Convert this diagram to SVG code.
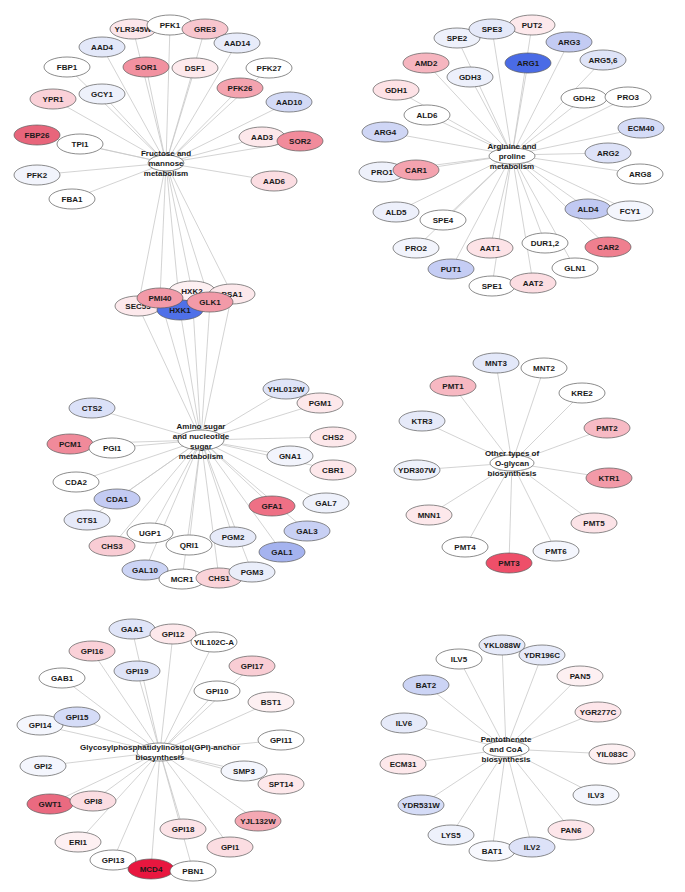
<svg xmlns="http://www.w3.org/2000/svg" width="685" height="892" viewBox="0 0 685 892">
<style>
.e{stroke:#c8c8c8;stroke-width:0.8;fill:none}
.n ellipse{stroke:#5a5a5a;stroke-width:0.7}
.n text,.h text{font-family:"Liberation Sans",Arial,sans-serif;font-weight:bold;font-size:8px;fill:#1a1a1a;text-anchor:middle}
.h ellipse{fill:#ffffff;stroke:#5a5a5a;stroke-width:0.7}
</style>
<rect width="685" height="892" fill="#ffffff"/>
<g id="connectors">
<!-- Fructose hub (166,163) -->
<line class="e" x1="133" y1="29" x2="166" y2="163"/>
<line class="e" x1="170" y1="25" x2="166" y2="163"/>
<line class="e" x1="205" y1="29" x2="166" y2="163"/>
<line class="e" x1="102" y1="47" x2="166" y2="163"/>
<line class="e" x1="237" y1="43" x2="166" y2="163"/>
<line class="e" x1="67" y1="67" x2="166" y2="163"/>
<line class="e" x1="146" y1="67" x2="166" y2="163"/>
<line class="e" x1="195" y1="68" x2="166" y2="163"/>
<line class="e" x1="269" y1="68" x2="166" y2="163"/>
<line class="e" x1="102" y1="94" x2="166" y2="163"/>
<line class="e" x1="240" y1="88" x2="166" y2="163"/>
<line class="e" x1="53" y1="99" x2="166" y2="163"/>
<line class="e" x1="289" y1="102" x2="166" y2="163"/>
<line class="e" x1="37" y1="135" x2="166" y2="163"/>
<line class="e" x1="80" y1="144" x2="166" y2="163"/>
<line class="e" x1="262" y1="137" x2="166" y2="163"/>
<line class="e" x1="300" y1="141" x2="166" y2="163"/>
<line class="e" x1="37" y1="175" x2="166" y2="163"/>
<line class="e" x1="274" y1="181" x2="166" y2="163"/>
<line class="e" x1="72" y1="199" x2="166" y2="163"/>
<!-- shared nodes to fructose hub -->
<line class="e" x1="138" y1="306" x2="166" y2="163"/>
<line class="e" x1="192" y1="291" x2="166" y2="163"/>
<line class="e" x1="232" y1="294" x2="166" y2="163"/>
<line class="e" x1="160" y1="298" x2="166" y2="163"/>
<line class="e" x1="210" y1="302" x2="166" y2="163"/>
<line class="e" x1="180" y1="310" x2="166" y2="163"/>
<!-- shared nodes to amino hub -->
<line class="e" x1="138" y1="306" x2="201" y2="440"/>
<line class="e" x1="192" y1="291" x2="201" y2="440"/>
<line class="e" x1="232" y1="294" x2="201" y2="440"/>
<line class="e" x1="160" y1="298" x2="201" y2="440"/>
<line class="e" x1="210" y1="302" x2="201" y2="440"/>
<line class="e" x1="180" y1="310" x2="201" y2="440"/>
<!-- Arginine hub (512,155) -->
<line class="e" x1="457" y1="38" x2="512" y2="155"/>
<line class="e" x1="492" y1="29" x2="512" y2="155"/>
<line class="e" x1="532" y1="25" x2="512" y2="155"/>
<line class="e" x1="569" y1="42" x2="512" y2="155"/>
<line class="e" x1="426" y1="63" x2="512" y2="155"/>
<line class="e" x1="528" y1="63" x2="512" y2="155"/>
<line class="e" x1="603" y1="60" x2="512" y2="155"/>
<line class="e" x1="470" y1="77" x2="512" y2="155"/>
<line class="e" x1="396" y1="90" x2="512" y2="155"/>
<line class="e" x1="584" y1="98" x2="512" y2="155"/>
<line class="e" x1="628" y1="97" x2="512" y2="155"/>
<line class="e" x1="427" y1="115" x2="512" y2="155"/>
<line class="e" x1="385" y1="132" x2="512" y2="155"/>
<line class="e" x1="641" y1="128" x2="512" y2="155"/>
<line class="e" x1="608" y1="153" x2="512" y2="155"/>
<line class="e" x1="382" y1="172" x2="512" y2="155"/>
<line class="e" x1="416" y1="170" x2="512" y2="155"/>
<line class="e" x1="640" y1="174" x2="512" y2="155"/>
<line class="e" x1="396" y1="212" x2="512" y2="155"/>
<line class="e" x1="588" y1="209" x2="512" y2="155"/>
<line class="e" x1="630" y1="211" x2="512" y2="155"/>
<line class="e" x1="443" y1="220" x2="512" y2="155"/>
<line class="e" x1="416" y1="248" x2="512" y2="155"/>
<line class="e" x1="490" y1="248" x2="512" y2="155"/>
<line class="e" x1="545" y1="243" x2="512" y2="155"/>
<line class="e" x1="608" y1="247" x2="512" y2="155"/>
<line class="e" x1="451" y1="269" x2="512" y2="155"/>
<line class="e" x1="575" y1="268" x2="512" y2="155"/>
<line class="e" x1="492" y1="286" x2="512" y2="155"/>
<line class="e" x1="533" y1="283" x2="512" y2="155"/>
<!-- Amino hub (201,440) -->
<line class="e" x1="286" y1="389" x2="201" y2="440"/>
<line class="e" x1="92" y1="408" x2="201" y2="440"/>
<line class="e" x1="320" y1="403" x2="201" y2="440"/>
<line class="e" x1="70" y1="444" x2="201" y2="440"/>
<line class="e" x1="112" y1="448" x2="201" y2="440"/>
<line class="e" x1="333" y1="437" x2="201" y2="440"/>
<line class="e" x1="290" y1="456" x2="201" y2="440"/>
<line class="e" x1="333" y1="470" x2="201" y2="440"/>
<line class="e" x1="76" y1="482" x2="201" y2="440"/>
<line class="e" x1="117" y1="499" x2="201" y2="440"/>
<line class="e" x1="272" y1="506" x2="201" y2="440"/>
<line class="e" x1="326" y1="503" x2="201" y2="440"/>
<line class="e" x1="87" y1="520" x2="201" y2="440"/>
<line class="e" x1="150" y1="533" x2="201" y2="440"/>
<line class="e" x1="307" y1="531" x2="201" y2="440"/>
<line class="e" x1="112" y1="546" x2="201" y2="440"/>
<line class="e" x1="189" y1="545" x2="201" y2="440"/>
<line class="e" x1="233" y1="537" x2="201" y2="440"/>
<line class="e" x1="282" y1="552" x2="201" y2="440"/>
<line class="e" x1="145" y1="570" x2="201" y2="440"/>
<line class="e" x1="182" y1="579" x2="201" y2="440"/>
<line class="e" x1="219" y1="578" x2="201" y2="440"/>
<line class="e" x1="252" y1="572" x2="201" y2="440"/>
<!-- O-glycan hub (512,463) -->
<line class="e" x1="496" y1="363" x2="512" y2="463"/>
<line class="e" x1="544" y1="368" x2="512" y2="463"/>
<line class="e" x1="453" y1="386" x2="512" y2="463"/>
<line class="e" x1="582" y1="393" x2="512" y2="463"/>
<line class="e" x1="422" y1="421" x2="512" y2="463"/>
<line class="e" x1="607" y1="428" x2="512" y2="463"/>
<line class="e" x1="417" y1="470" x2="512" y2="463"/>
<line class="e" x1="609" y1="478" x2="512" y2="463"/>
<line class="e" x1="429" y1="515" x2="512" y2="463"/>
<line class="e" x1="594" y1="523" x2="512" y2="463"/>
<line class="e" x1="465" y1="547" x2="512" y2="463"/>
<line class="e" x1="556" y1="551" x2="512" y2="463"/>
<line class="e" x1="509" y1="563" x2="512" y2="463"/>
<!-- GPI hub (160,752) -->
<line class="e" x1="132" y1="629" x2="160" y2="752"/>
<line class="e" x1="173" y1="634" x2="160" y2="752"/>
<line class="e" x1="214" y1="642" x2="160" y2="752"/>
<line class="e" x1="92" y1="651" x2="160" y2="752"/>
<line class="e" x1="137" y1="671" x2="160" y2="752"/>
<line class="e" x1="252" y1="666" x2="160" y2="752"/>
<line class="e" x1="62" y1="678" x2="160" y2="752"/>
<line class="e" x1="217" y1="691" x2="160" y2="752"/>
<line class="e" x1="271" y1="702" x2="160" y2="752"/>
<line class="e" x1="77" y1="717" x2="160" y2="752"/>
<line class="e" x1="40" y1="725" x2="160" y2="752"/>
<line class="e" x1="281" y1="740" x2="160" y2="752"/>
<line class="e" x1="43" y1="766" x2="160" y2="752"/>
<line class="e" x1="244" y1="771" x2="160" y2="752"/>
<line class="e" x1="281" y1="784" x2="160" y2="752"/>
<line class="e" x1="50" y1="804" x2="160" y2="752"/>
<line class="e" x1="93" y1="801" x2="160" y2="752"/>
<line class="e" x1="258" y1="821" x2="160" y2="752"/>
<line class="e" x1="183" y1="829" x2="160" y2="752"/>
<line class="e" x1="78" y1="842" x2="160" y2="752"/>
<line class="e" x1="230" y1="847" x2="160" y2="752"/>
<line class="e" x1="113" y1="860" x2="160" y2="752"/>
<line class="e" x1="151" y1="869" x2="160" y2="752"/>
<line class="e" x1="193" y1="871" x2="160" y2="752"/>
<!-- Pantothenate hub (506,749) -->
<line class="e" x1="502" y1="645" x2="506" y2="749"/>
<line class="e" x1="542" y1="655" x2="506" y2="749"/>
<line class="e" x1="459" y1="659" x2="506" y2="749"/>
<line class="e" x1="580" y1="676" x2="506" y2="749"/>
<line class="e" x1="426" y1="685" x2="506" y2="749"/>
<line class="e" x1="598" y1="712" x2="506" y2="749"/>
<line class="e" x1="404" y1="723" x2="506" y2="749"/>
<line class="e" x1="612" y1="754" x2="506" y2="749"/>
<line class="e" x1="403" y1="764" x2="506" y2="749"/>
<line class="e" x1="596" y1="795" x2="506" y2="749"/>
<line class="e" x1="421" y1="805" x2="506" y2="749"/>
<line class="e" x1="571" y1="830" x2="506" y2="749"/>
<line class="e" x1="451" y1="835" x2="506" y2="749"/>
<line class="e" x1="492" y1="851" x2="506" y2="749"/>
<line class="e" x1="532" y1="847" x2="506" y2="749"/>
</g>

<!-- Fructose and mannose cluster -->
<g id="YLR345W" class="n"><ellipse cx="133" cy="29" rx="23" ry="10" fill="#fce6ea"/><text x="133" y="31.8">YLR345W</text></g>
<g id="PFK1" class="n"><ellipse cx="170" cy="25" rx="23" ry="10" fill="#ffffff"/><text x="170" y="27.8">PFK1</text></g>
<g id="GRE3" class="n"><ellipse cx="205" cy="29" rx="23" ry="10" fill="#f8c6ce"/><text x="205" y="31.8">GRE3</text></g>
<g id="AAD4" class="n"><ellipse cx="102" cy="47" rx="23" ry="10" fill="#e3e8f9"/><text x="102" y="49.8">AAD4</text></g>
<g id="AAD14" class="n"><ellipse cx="237" cy="43" rx="23" ry="10" fill="#e8ecfa"/><text x="237" y="45.8">AAD14</text></g>
<g id="FBP1" class="n"><ellipse cx="67" cy="67" rx="23" ry="10" fill="#ffffff"/><text x="67" y="69.8">FBP1</text></g>
<g id="SOR1" class="n"><ellipse cx="146" cy="67" rx="23" ry="10" fill="#f291a0"/><text x="146" y="69.8">SOR1</text></g>
<g id="DSF1" class="n"><ellipse cx="195" cy="68" rx="23" ry="10" fill="#fde9ec"/><text x="195" y="70.8">DSF1</text></g>
<g id="PFK27" class="n"><ellipse cx="269" cy="68" rx="23" ry="10" fill="#ffffff"/><text x="269" y="70.8">PFK27</text></g>
<g id="GCY1" class="n"><ellipse cx="102" cy="94" rx="23" ry="10" fill="#eef1fb"/><text x="102" y="96.8">GCY1</text></g>
<g id="PFK26" class="n"><ellipse cx="240" cy="88" rx="23" ry="10" fill="#f4a3af"/><text x="240" y="90.8">PFK26</text></g>
<g id="YPR1" class="n"><ellipse cx="53" cy="99" rx="23" ry="10" fill="#fad1d8"/><text x="53" y="101.8">YPR1</text></g>
<g id="AAD10" class="n"><ellipse cx="289" cy="102" rx="23" ry="10" fill="#d3daf6"/><text x="289" y="104.8">AAD10</text></g>
<g id="FBP26" class="n"><ellipse cx="37" cy="135" rx="23" ry="10" fill="#e8657b"/><text x="37" y="137.8">FBP26</text></g>
<g id="TPI1" class="n"><ellipse cx="80" cy="144" rx="23" ry="10" fill="#ffffff"/><text x="80" y="146.8">TPI1</text></g>
<g id="AAD3" class="n"><ellipse cx="262" cy="137" rx="23" ry="10" fill="#fde8eb"/><text x="262" y="139.8">AAD3</text></g>
<g id="SOR2" class="n"><ellipse cx="300" cy="141" rx="23" ry="10" fill="#f18b9b"/><text x="300" y="143.8">SOR2</text></g>
<g id="PFK2" class="n"><ellipse cx="37" cy="175" rx="23" ry="10" fill="#f2f4fc"/><text x="37" y="177.8">PFK2</text></g>
<g id="AAD6" class="n"><ellipse cx="274" cy="181" rx="23" ry="10" fill="#fbdde2"/><text x="274" y="183.8">AAD6</text></g>
<g id="FBA1" class="n"><ellipse cx="72" cy="199" rx="23" ry="10" fill="#ffffff"/><text x="72" y="201.8">FBA1</text></g>
<g id="hub-fructose" class="h"><ellipse cx="166" cy="163" rx="18" ry="8"/><text x="166" y="155.8">Fructose and</text><text x="166" y="165.8">mannose</text><text x="166" y="175.8">metabolism</text></g>

<!-- Shared nodes -->
<g id="SEC53" class="n"><ellipse cx="138" cy="306" rx="23" ry="10" fill="#fde9ec"/><text x="138" y="308.8">SEC53</text></g>
<g id="HXK2" class="n"><ellipse cx="192" cy="291" rx="23" ry="10" fill="#fdf0f2"/><text x="192" y="293.8">HXK2</text></g>
<g id="PSA1" class="n"><ellipse cx="232" cy="294" rx="23" ry="10" fill="#fce8eb"/><text x="232" y="296.8">PSA1</text></g>
<g id="HXK1" class="n"><ellipse cx="180" cy="310" rx="23" ry="10" fill="#4f70e8"/><text x="180" y="312.8">HXK1</text></g>
<g id="PMI40" class="n"><ellipse cx="160" cy="298" rx="23" ry="10" fill="#f29aa8"/><text x="160" y="300.8">PMI40</text></g>
<g id="GLK1" class="n"><ellipse cx="210" cy="302" rx="23" ry="10" fill="#f29aa8"/><text x="210" y="304.8">GLK1</text></g>

<!-- Arginine and proline cluster -->
<g id="SPE2" class="n"><ellipse cx="457" cy="38" rx="23" ry="10" fill="#eef1fb"/><text x="457" y="40.8">SPE2</text></g>
<g id="PUT2" class="n"><ellipse cx="532" cy="25" rx="23" ry="10" fill="#fde9ec"/><text x="532" y="27.8">PUT2</text></g>
<g id="SPE3" class="n"><ellipse cx="492" cy="29" rx="23" ry="10" fill="#e5e9f9"/><text x="492" y="31.8">SPE3</text></g>
<g id="ARG3" class="n"><ellipse cx="569" cy="42" rx="23" ry="10" fill="#c3cbf3"/><text x="569" y="44.8">ARG3</text></g>
<g id="AMD2" class="n"><ellipse cx="426" cy="63" rx="23" ry="10" fill="#f6b5bf"/><text x="426" y="65.8">AMD2</text></g>
<g id="ARG1" class="n"><ellipse cx="528" cy="63" rx="23" ry="10" fill="#4a6be6"/><text x="528" y="65.8">ARG1</text></g>
<g id="ARG5_6" class="n"><ellipse cx="603" cy="60" rx="23" ry="10" fill="#dfe4f8"/><text x="603" y="62.8">ARG5,6</text></g>
<g id="GDH3" class="n"><ellipse cx="470" cy="77" rx="23" ry="10" fill="#edf0fb"/><text x="470" y="79.8">GDH3</text></g>
<g id="GDH1" class="n"><ellipse cx="396" cy="90" rx="23" ry="10" fill="#fde2e6"/><text x="396" y="92.8">GDH1</text></g>
<g id="GDH2" class="n"><ellipse cx="584" cy="98" rx="23" ry="10" fill="#ffffff"/><text x="584" y="100.8">GDH2</text></g>
<g id="PRO3" class="n"><ellipse cx="628" cy="97" rx="23" ry="10" fill="#ffffff"/><text x="628" y="99.8">PRO3</text></g>
<g id="ALD6" class="n"><ellipse cx="427" cy="115" rx="23" ry="10" fill="#ffffff"/><text x="427" y="117.8">ALD6</text></g>
<g id="ARG4" class="n"><ellipse cx="385" cy="132" rx="23" ry="10" fill="#cfd6f5"/><text x="385" y="134.8">ARG4</text></g>
<g id="ECM40" class="n"><ellipse cx="641" cy="128" rx="23" ry="10" fill="#d5dcf7"/><text x="641" y="130.8">ECM40</text></g>
<g id="ARG2" class="n"><ellipse cx="608" cy="153" rx="23" ry="10" fill="#dde2f8"/><text x="608" y="155.8">ARG2</text></g>
<g id="PRO1" class="n"><ellipse cx="382" cy="172" rx="23" ry="10" fill="#eef1fb"/><text x="382" y="174.8">PRO1</text></g>
<g id="CAR1" class="n"><ellipse cx="416" cy="170" rx="23" ry="10" fill="#f4a3af"/><text x="416" y="172.8">CAR1</text></g>
<g id="ARG8" class="n"><ellipse cx="640" cy="174" rx="23" ry="10" fill="#ffffff"/><text x="640" y="176.8">ARG8</text></g>
<g id="ALD5" class="n"><ellipse cx="396" cy="212" rx="23" ry="10" fill="#edf0fb"/><text x="396" y="214.8">ALD5</text></g>
<g id="ALD4" class="n"><ellipse cx="588" cy="209" rx="23" ry="10" fill="#c1c9f2"/><text x="588" y="211.8">ALD4</text></g>
<g id="FCY1" class="n"><ellipse cx="630" cy="211" rx="23" ry="10" fill="#f4f6fd"/><text x="630" y="213.8">FCY1</text></g>
<g id="SPE4" class="n"><ellipse cx="443" cy="220" rx="23" ry="10" fill="#ffffff"/><text x="443" y="222.8">SPE4</text></g>
<g id="PRO2" class="n"><ellipse cx="416" cy="248" rx="23" ry="10" fill="#f2f4fc"/><text x="416" y="250.8">PRO2</text></g>
<g id="AAT1" class="n"><ellipse cx="490" cy="248" rx="23" ry="10" fill="#fde3e7"/><text x="490" y="250.8">AAT1</text></g>
<g id="DUR1_2" class="n"><ellipse cx="545" cy="243" rx="23" ry="10" fill="#ffffff"/><text x="545" y="245.8">DUR1,2</text></g>
<g id="CAR2" class="n"><ellipse cx="608" cy="247" rx="23" ry="10" fill="#ef7f8f"/><text x="608" y="249.8">CAR2</text></g>
<g id="PUT1" class="n"><ellipse cx="451" cy="269" rx="23" ry="10" fill="#c5cdf4"/><text x="451" y="271.8">PUT1</text></g>
<g id="GLN1" class="n"><ellipse cx="575" cy="268" rx="23" ry="10" fill="#ffffff"/><text x="575" y="270.8">GLN1</text></g>
<g id="SPE1" class="n"><ellipse cx="492" cy="286" rx="23" ry="10" fill="#ffffff"/><text x="492" y="288.8">SPE1</text></g>
<g id="AAT2" class="n"><ellipse cx="533" cy="283" rx="23" ry="10" fill="#fcdde2"/><text x="533" y="285.8">AAT2</text></g>
<g id="hub-arginine" class="h"><ellipse cx="512" cy="156" rx="23" ry="8"/><text x="512" y="148.8">Arginine and</text><text x="512" y="158.8">proline</text><text x="512" y="168.8">metabolism</text></g>

<!-- Amino sugar cluster -->
<g id="YHL012W" class="n"><ellipse cx="286" cy="389" rx="23" ry="10" fill="#dfe4f8"/><text x="286" y="391.8">YHL012W</text></g>
<g id="CTS2" class="n"><ellipse cx="92" cy="408" rx="23" ry="10" fill="#dbe1f8"/><text x="92" y="410.8">CTS2</text></g>
<g id="PGM1" class="n"><ellipse cx="320" cy="403" rx="23" ry="10" fill="#fde8eb"/><text x="320" y="405.8">PGM1</text></g>
<g id="PCM1" class="n"><ellipse cx="70" cy="444" rx="23" ry="10" fill="#f08a9a"/><text x="70" y="446.8">PCM1</text></g>
<g id="PGI1" class="n"><ellipse cx="112" cy="448" rx="23" ry="10" fill="#ffffff"/><text x="112" y="450.8">PGI1</text></g>
<g id="CHS2" class="n"><ellipse cx="333" cy="437" rx="23" ry="10" fill="#fde8eb"/><text x="333" y="439.8">CHS2</text></g>
<g id="GNA1" class="n"><ellipse cx="290" cy="456" rx="23" ry="10" fill="#f2f4fc"/><text x="290" y="458.8">GNA1</text></g>
<g id="CBR1" class="n"><ellipse cx="333" cy="470" rx="23" ry="10" fill="#fde8eb"/><text x="333" y="472.8">CBR1</text></g>
<g id="CDA2" class="n"><ellipse cx="76" cy="482" rx="23" ry="10" fill="#ffffff"/><text x="76" y="484.8">CDA2</text></g>
<g id="CDA1" class="n"><ellipse cx="117" cy="499" rx="23" ry="10" fill="#c3cbf3"/><text x="117" y="501.8">CDA1</text></g>
<g id="GFA1" class="n"><ellipse cx="272" cy="506" rx="23" ry="10" fill="#ee7085"/><text x="272" y="508.8">GFA1</text></g>
<g id="GAL7" class="n"><ellipse cx="326" cy="503" rx="23" ry="10" fill="#eef1fb"/><text x="326" y="505.8">GAL7</text></g>
<g id="CTS1" class="n"><ellipse cx="87" cy="520" rx="23" ry="10" fill="#e6eaf9"/><text x="87" y="522.8">CTS1</text></g>
<g id="UGP1" class="n"><ellipse cx="150" cy="533" rx="23" ry="10" fill="#ffffff"/><text x="150" y="535.8">UGP1</text></g>
<g id="GAL3" class="n"><ellipse cx="307" cy="531" rx="23" ry="10" fill="#c8d0f4"/><text x="307" y="533.8">GAL3</text></g>
<g id="CHS3" class="n"><ellipse cx="112" cy="546" rx="23" ry="10" fill="#f9ccd4"/><text x="112" y="548.8">CHS3</text></g>
<g id="QRI1" class="n"><ellipse cx="189" cy="545" rx="23" ry="10" fill="#ffffff"/><text x="189" y="547.8">QRI1</text></g>
<g id="PGM2" class="n"><ellipse cx="233" cy="537" rx="23" ry="10" fill="#e6eaf9"/><text x="233" y="539.8">PGM2</text></g>
<g id="GAL1" class="n"><ellipse cx="282" cy="552" rx="23" ry="10" fill="#a5b3ef"/><text x="282" y="554.8">GAL1</text></g>
<g id="GAL10" class="n"><ellipse cx="145" cy="570" rx="23" ry="10" fill="#ccd4f5"/><text x="145" y="572.8">GAL10</text></g>
<g id="MCR1" class="n"><ellipse cx="182" cy="579" rx="23" ry="10" fill="#ffffff"/><text x="182" y="581.8">MCR1</text></g>
<g id="CHS1" class="n"><ellipse cx="219" cy="578" rx="23" ry="10" fill="#fad3d9"/><text x="219" y="580.8">CHS1</text></g>
<g id="PGM3" class="n"><ellipse cx="252" cy="572" rx="23" ry="10" fill="#eaeefa"/><text x="252" y="574.8">PGM3</text></g>
<g id="hub-amino" class="h"><ellipse cx="201" cy="440" rx="23" ry="10"/><text x="201" y="428.8">Amino sugar</text><text x="201" y="438.8">and nucleotide</text><text x="201" y="448.8">sugar</text><text x="201" y="458.8">metabolism</text></g>

<!-- O-glycan cluster -->
<g id="MNT3" class="n"><ellipse cx="496" cy="363" rx="23" ry="10" fill="#e3e8f9"/><text x="496" y="365.8">MNT3</text></g>
<g id="MNT2" class="n"><ellipse cx="544" cy="368" rx="23" ry="10" fill="#ffffff"/><text x="544" y="370.8">MNT2</text></g>
<g id="PMT1" class="n"><ellipse cx="453" cy="386" rx="23" ry="10" fill="#f7b8c2"/><text x="453" y="388.8">PMT1</text></g>
<g id="KRE2" class="n"><ellipse cx="582" cy="393" rx="23" ry="10" fill="#ffffff"/><text x="582" y="395.8">KRE2</text></g>
<g id="KTR3" class="n"><ellipse cx="422" cy="421" rx="23" ry="10" fill="#e6eaf9"/><text x="422" y="423.8">KTR3</text></g>
<g id="PMT2" class="n"><ellipse cx="607" cy="428" rx="23" ry="10" fill="#f7bac4"/><text x="607" y="430.8">PMT2</text></g>
<g id="YDR307W" class="n"><ellipse cx="417" cy="470" rx="23" ry="10" fill="#eef1fb"/><text x="417" y="472.8">YDR307W</text></g>
<g id="KTR1" class="n"><ellipse cx="609" cy="478" rx="23" ry="10" fill="#f29aa8"/><text x="609" y="480.8">KTR1</text></g>
<g id="MNN1" class="n"><ellipse cx="429" cy="515" rx="23" ry="10" fill="#fde8eb"/><text x="429" y="517.8">MNN1</text></g>
<g id="PMT5" class="n"><ellipse cx="594" cy="523" rx="23" ry="10" fill="#fce3e7"/><text x="594" y="525.8">PMT5</text></g>
<g id="PMT4" class="n"><ellipse cx="465" cy="547" rx="23" ry="10" fill="#ffffff"/><text x="465" y="549.8">PMT4</text></g>
<g id="PMT6" class="n"><ellipse cx="556" cy="551" rx="23" ry="10" fill="#f4f6fd"/><text x="556" y="553.8">PMT6</text></g>
<g id="PMT3" class="n"><ellipse cx="509" cy="563" rx="23" ry="10" fill="#ee4f69"/><text x="509" y="565.8">PMT3</text></g>
<g id="hub-oglycan" class="h"><ellipse cx="512" cy="463" rx="22" ry="8"/><text x="512" y="455.8">Other types of</text><text x="512" y="465.8">O-glycan</text><text x="512" y="475.8">biosynthesis</text></g>

<!-- GPI cluster -->
<g id="GAA1" class="n"><ellipse cx="132" cy="629" rx="23" ry="10" fill="#e0e5f8"/><text x="132" y="631.8">GAA1</text></g>
<g id="GPI12" class="n"><ellipse cx="173" cy="634" rx="23" ry="10" fill="#fde8eb"/><text x="173" y="636.8">GPI12</text></g>
<g id="YIL102C-A" class="n"><ellipse cx="214" cy="642" rx="23" ry="10" fill="#ffffff"/><text x="214" y="644.8">YIL102C-A</text></g>
<g id="GPI16" class="n"><ellipse cx="92" cy="651" rx="23" ry="10" fill="#fad1d8"/><text x="92" y="653.8">GPI16</text></g>
<g id="GPI19" class="n"><ellipse cx="137" cy="671" rx="23" ry="10" fill="#dfe4f8"/><text x="137" y="673.8">GPI19</text></g>
<g id="GPI17" class="n"><ellipse cx="252" cy="666" rx="23" ry="10" fill="#f9cdd4"/><text x="252" y="668.8">GPI17</text></g>
<g id="GAB1" class="n"><ellipse cx="62" cy="678" rx="23" ry="10" fill="#ffffff"/><text x="62" y="680.8">GAB1</text></g>
<g id="GPI10" class="n"><ellipse cx="217" cy="691" rx="23" ry="10" fill="#ffffff"/><text x="217" y="693.8">GPI10</text></g>
<g id="BST1" class="n"><ellipse cx="271" cy="702" rx="23" ry="10" fill="#fdf0f2"/><text x="271" y="704.8">BST1</text></g>
<g id="GPI14" class="n"><ellipse cx="40" cy="725" rx="23" ry="10" fill="#f4f6fd"/><text x="40" y="727.8">GPI14</text></g>
<g id="GPI15" class="n"><ellipse cx="77" cy="717" rx="23" ry="10" fill="#d5dcf7"/><text x="77" y="719.8">GPI15</text></g>
<g id="GPI11" class="n"><ellipse cx="281" cy="740" rx="23" ry="10" fill="#ffffff"/><text x="281" y="742.8">GPI11</text></g>
<g id="GPI2" class="n"><ellipse cx="43" cy="766" rx="23" ry="10" fill="#f4f6fd"/><text x="43" y="768.8">GPI2</text></g>
<g id="SMP3" class="n"><ellipse cx="244" cy="771" rx="23" ry="10" fill="#f4f6fd"/><text x="244" y="773.8">SMP3</text></g>
<g id="SPT14" class="n"><ellipse cx="281" cy="784" rx="23" ry="10" fill="#fde8eb"/><text x="281" y="786.8">SPT14</text></g>
<g id="GWT1" class="n"><ellipse cx="50" cy="804" rx="23" ry="10" fill="#ea6a80"/><text x="50" y="806.8">GWT1</text></g>
<g id="GPI8" class="n"><ellipse cx="93" cy="801" rx="23" ry="10" fill="#fbdde2"/><text x="93" y="803.8">GPI8</text></g>
<g id="YJL132W" class="n"><ellipse cx="258" cy="821" rx="23" ry="10" fill="#f4a8b3"/><text x="258" y="823.8">YJL132W</text></g>
<g id="GPI18" class="n"><ellipse cx="183" cy="829" rx="23" ry="10" fill="#fce3e7"/><text x="183" y="831.8">GPI18</text></g>
<g id="ERI1" class="n"><ellipse cx="78" cy="842" rx="23" ry="10" fill="#fdf0f2"/><text x="78" y="844.8">ERI1</text></g>
<g id="GPI1" class="n"><ellipse cx="230" cy="847" rx="23" ry="10" fill="#fbdde2"/><text x="230" y="849.8">GPI1</text></g>
<g id="GPI13" class="n"><ellipse cx="113" cy="860" rx="23" ry="10" fill="#ffffff"/><text x="113" y="862.8">GPI13</text></g>
<g id="MCD4" class="n"><ellipse cx="151" cy="869" rx="23" ry="10" fill="#e8173f"/><text x="151" y="871.8">MCD4</text></g>
<g id="PBN1" class="n"><ellipse cx="193" cy="871" rx="23" ry="10" fill="#ffffff"/><text x="193" y="873.8">PBN1</text></g>
<g id="hub-gpi" class="h"><ellipse cx="160" cy="752" rx="23" ry="9"/><text x="160" y="749.8">Glycosylphosphatidylinositol(GPI)-anchor</text><text x="160" y="759.8">biosynthesis</text></g>

<!-- Pantothenate cluster -->
<g id="YKL088W" class="n"><ellipse cx="502" cy="645" rx="23" ry="10" fill="#e6eaf9"/><text x="502" y="647.8">YKL088W</text></g>
<g id="YDR196C" class="n"><ellipse cx="542" cy="655" rx="23" ry="10" fill="#e6eaf9"/><text x="542" y="657.8">YDR196C</text></g>
<g id="ILV5" class="n"><ellipse cx="459" cy="659" rx="23" ry="10" fill="#ffffff"/><text x="459" y="661.8">ILV5</text></g>
<g id="PAN5" class="n"><ellipse cx="580" cy="676" rx="23" ry="10" fill="#fdf0f2"/><text x="580" y="678.8">PAN5</text></g>
<g id="BAT2" class="n"><ellipse cx="426" cy="685" rx="23" ry="10" fill="#ccd4f5"/><text x="426" y="687.8">BAT2</text></g>
<g id="YGR277C" class="n"><ellipse cx="598" cy="712" rx="23" ry="10" fill="#fde6ea"/><text x="598" y="714.8">YGR277C</text></g>
<g id="ILV6" class="n"><ellipse cx="404" cy="723" rx="23" ry="10" fill="#e6eaf9"/><text x="404" y="725.8">ILV6</text></g>
<g id="YIL083C" class="n"><ellipse cx="612" cy="754" rx="23" ry="10" fill="#fdf0f2"/><text x="612" y="756.8">YIL083C</text></g>
<g id="ECM31" class="n"><ellipse cx="403" cy="764" rx="23" ry="10" fill="#fde8eb"/><text x="403" y="766.8">ECM31</text></g>
<g id="ILV3" class="n"><ellipse cx="596" cy="795" rx="23" ry="10" fill="#f4f6fd"/><text x="596" y="797.8">ILV3</text></g>
<g id="YDR531W" class="n"><ellipse cx="421" cy="805" rx="23" ry="10" fill="#d5dcf7"/><text x="421" y="807.8">YDR531W</text></g>
<g id="PAN6" class="n"><ellipse cx="571" cy="830" rx="23" ry="10" fill="#fde6ea"/><text x="571" y="832.8">PAN6</text></g>
<g id="LYS5" class="n"><ellipse cx="451" cy="835" rx="23" ry="10" fill="#eef1fb"/><text x="451" y="837.8">LYS5</text></g>
<g id="BAT1" class="n"><ellipse cx="492" cy="851" rx="23" ry="10" fill="#f8f9fe"/><text x="492" y="853.8">BAT1</text></g>
<g id="ILV2" class="n"><ellipse cx="532" cy="847" rx="23" ry="10" fill="#dde2f8"/><text x="532" y="849.8">ILV2</text></g>
<g id="hub-pantothenate" class="h"><ellipse cx="506" cy="749" rx="23" ry="8"/><text x="506" y="741.8">Pantothenate</text><text x="506" y="751.8">and CoA</text><text x="506" y="761.8">biosynthesis</text></g>
</svg>
